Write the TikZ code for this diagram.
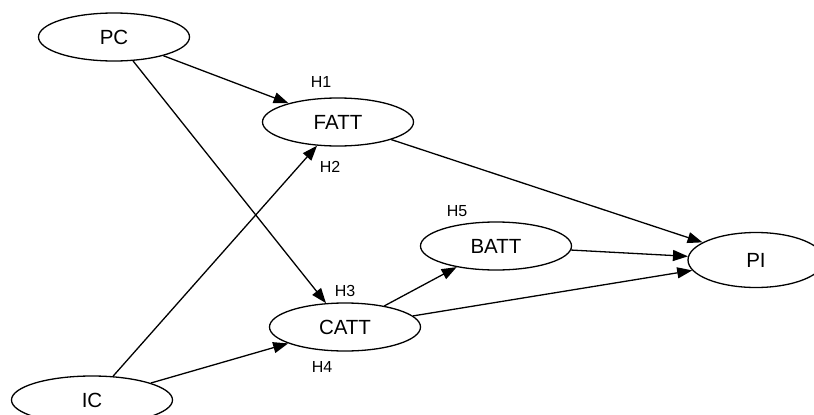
\documentclass[tikz,border=0pt]{standalone}
\usepackage{fontspec}
\setmainfont{Liberation Sans}
\usetikzlibrary{shapes.geometric,arrows.meta}
\begin{document}
\begin{tikzpicture}[x=1pt,y=-1pt,
  var/.style={draw,ellipse,line width=1.3pt,inner sep=0pt,minimum width=151pt,minimum height=48pt,font=\fontsize{20.5}{20.5}\selectfont},
  hyp/.style={inner sep=0pt,font=\fontsize{16}{16}\selectfont},
  link/.style={line width=1.3pt,-{Triangle[length=15pt,width=11pt]}}]
\useasboundingbox (0,0) rectangle (814,415);
\node[var] (PC) at (114,37) {PC};
\node[var] (FATT) at (338,122) {FATT};
\node[var] (BATT) at (496,246) {BATT};
\node[var,minimum width=136pt,minimum height=55pt] (PI) at (756,260) {PI};
\node[var] (CATT) at (345,327) {CATT};
\node[var,minimum width=161pt,minimum height=48pt] (IC) at (92,400) {IC};
\draw[link] (PC) -- (FATT);
\draw[link] (PC) -- (CATT);
\draw[link] (IC) -- (FATT);
\draw[link] (IC) -- (CATT);
\draw[link] (FATT) -- (PI);
\draw[link] (BATT) -- (PI);
\draw[link] (CATT) -- (PI);
\draw[link] (CATT) -- (BATT);
\node[hyp] (h1) at (321,82) {H1};
\node[hyp] (h2) at (330,167) {H2};
\node[hyp] (h3) at (345,291) {H3};
\node[hyp] (h4) at (322,367) {H4};
\node[hyp] (h5) at (457,211) {H5};
\end{tikzpicture}
\end{document}
